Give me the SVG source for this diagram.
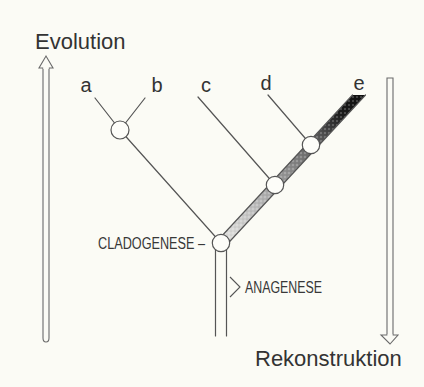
<svg xmlns="http://www.w3.org/2000/svg" width="424" height="387" viewBox="0 0 424 387">
<style>
.ln{fill:none;stroke:#555;stroke-width:1.2;stroke-linecap:round}
.arr{fill:none;stroke:#6a6a6a;stroke-width:1.1;stroke-linejoin:miter}
.nd{fill:#fdfdf9;stroke:#555;stroke-width:1.2}
.big{font-family:"Liberation Sans",Arial,sans-serif;font-size:22px;fill:#333}
.lt{font-family:"Liberation Sans",Arial,sans-serif;font-size:20px;fill:#333;text-anchor:middle}
.sm{font-family:"Liberation Sans",Arial,sans-serif;font-size:16px;fill:#383838}
</style>
<defs>
<linearGradient id="bandG" gradientUnits="userSpaceOnUse" x1="359" y1="95" x2="221" y2="243">
<stop offset="0" stop-color="#111"/>
<stop offset="0.13" stop-color="#1c1c1c"/>
<stop offset="0.28" stop-color="#555"/>
<stop offset="0.5" stop-color="#8c8c8c"/>
<stop offset="0.75" stop-color="#bcbcbc"/>
<stop offset="1" stop-color="#e6e6e3"/>
</linearGradient>
<pattern id="stip" width="4" height="4" patternUnits="userSpaceOnUse">
<circle cx="1" cy="1" r="0.8" fill="#fff" fill-opacity="0.45"/>
<circle cx="3" cy="3" r="0.6" fill="#000" fill-opacity="0.15"/>
</pattern>
</defs>
<rect width="424" height="387" fill="#fbfbf5"/>

<g id="evolution-arrow">
<path class="arr" d="M43,68 L43,338 Q43,342 46,342 Q49,342 49,338 L49,68 L53,68 L46,56 L39,68 Z"/>
<path d="M43,68 L49,68" stroke="#fbfbf5" stroke-width="1.4"/>
<text class="big" x="35" y="49">Evolution</text>
</g>

<g id="rekonstruktion-arrow">
<path class="arr" d="M387,78 L393,78 L393,335 L398,335 L390,344 L381,335 L387,335 Z"/>
<path d="M387.5,335 L392.5,335" stroke="#fbfbf5" stroke-width="1.4"/>
<text class="big" x="255" y="366">Rekonstruktion</text>
</g>

<g id="connectors">
<line class="ln" x1="95" y1="98" x2="120" y2="130"/>
<line class="ln" x1="145" y1="98" x2="120" y2="130"/>
<line class="ln" x1="120" y1="130" x2="221" y2="243"/>
<line class="ln" x1="198" y1="97" x2="275" y2="185"/>
<line class="ln" x1="268" y1="95" x2="311" y2="145"/>
<g id="band">
<polygon points="352.5,95 365.5,95 228.3,243 215.3,243" fill="url(#bandG)"/>
<polygon points="352.5,95 365.5,95 228.3,243 215.3,243" fill="url(#stip)"/>
<line class="ln" x1="352.5" y1="95" x2="215.3" y2="243"/>
<line class="ln" x1="365.5" y1="95" x2="228.3" y2="243"/>
</g>
<line class="ln" x1="215.5" y1="249" x2="215.5" y2="336"/>
<line class="ln" x1="226.5" y1="249" x2="226.5" y2="336"/>
</g>

<g id="node-a"><text class="lt" x="86" y="92">a</text></g>
<g id="node-b"><text class="lt" x="157" y="92">b</text></g>
<g id="node-c"><text class="lt" x="206" y="92">c</text></g>
<g id="node-d"><text class="lt" x="266" y="90">d</text></g>
<g id="node-e"><text class="lt" x="359" y="90">e</text></g>

<g id="node-ab"><circle class="nd" cx="120" cy="130" r="9"/></g>
<g id="node-d-split"><circle class="nd" cx="311" cy="145" r="8.7"/></g>
<g id="node-c-split"><circle class="nd" cx="275" cy="185" r="8.7"/></g>
<g id="node-cladogenese">
<circle class="nd" cx="221" cy="243" r="8.7"/>
<text class="sm" x="98" y="249" textLength="107" lengthAdjust="spacingAndGlyphs">CLADOGENESE –</text>
</g>
<g id="label-anagenese">
<path d="M230,277 L240,287 L230,297" fill="none" stroke="#555" stroke-width="1.1"/>
<text class="sm" x="245" y="293" textLength="77" lengthAdjust="spacingAndGlyphs">ANAGENESE</text>
</g>
</svg>
